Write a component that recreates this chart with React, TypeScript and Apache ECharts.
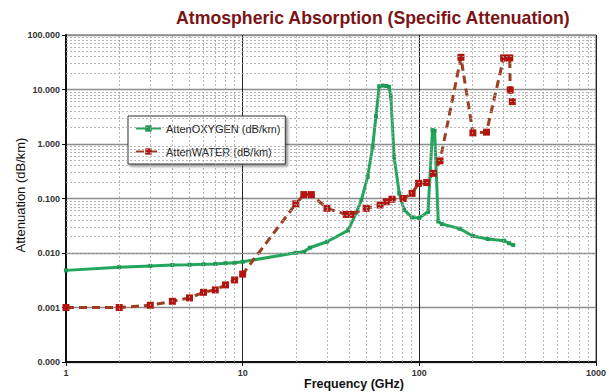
import React, { useEffect, useRef } from "react";
import * as echarts from "echarts";

// Oxygen absorption (dB/km) vs frequency (GHz)
const OXY_FREQ = [1, 2, 3, 4, 5, 6, 7, 8, 9, 10, 20, 22.2, 24, 30, 39.5, 44, 47, 51, 54.4, 56.8, 59.3, 62, 65, 67.4, 69, 72, 77, 82, 91, 100, 112, 118.75, 122, 128, 134, 169, 201, 244, 302, 322, 340];
const OXY_ATT = [0.0048, 0.0055, 0.0058, 0.006, 0.0061, 0.0062, 0.0063, 0.0065, 0.0066, 0.0069, 0.0101, 0.0105, 0.0125, 0.0161, 0.026, 0.055, 0.094, 0.25, 0.89, 3.2, 11.5, 11.8, 11.6, 11.2, 7.4, 0.58, 0.124, 0.062, 0.045, 0.044, 0.057, 1.8, 1.75, 0.038, 0.034, 0.028, 0.0205, 0.018, 0.0168, 0.0151, 0.014];

// Water vapour absorption (dB/km) vs frequency (GHz)
const H2O_FREQ = [1, 2, 3, 4, 5, 6, 7, 8, 9, 10, 20, 22.2, 24.5, 30, 38.6, 41, 50, 60, 65, 70, 81, 91, 99, 110, 120, 131, 172, 201, 240, 300, 325, 327, 336];
const H2O_ATT = [0.001, 0.001, 0.0011, 0.0013, 0.0015, 0.0019, 0.0021, 0.0026, 0.0032, 0.0041, 0.08, 0.118, 0.118, 0.066, 0.051, 0.051, 0.066, 0.076, 0.087, 0.097, 0.1, 0.124, 0.19, 0.196, 0.29, 0.49, 39, 1.6, 1.65, 38, 38, 9.8, 6.0];

// Minor grid positions inside each decade
const MINOR_STEPS = [2, 3, 4, 5, 6, 7, 8, 9];
const X_DECADES = [1, 10, 100];
const Y_DECADES = [0.0001, 0.001, 0.01, 0.1, 1, 10];

const SERIES_NAMES = ["AttenOXYGEN (dB/km)", "AttenWATER (dB/km)"];
const TITLE = "Atmospheric Absorption (Specific Attenuation)";
const X_NAME = "Frequency (GHz)";
const Y_NAME = "Attenuation (dB/km)";

const FONT = "'Liberation Sans', Arial, sans-serif";

const zip = (xs: number[], ys: number[]) => xs.map((x, i) => [x, ys[i]]);

export default function App() {
  const ref = useRef<HTMLDivElement>(null);

  useEffect(() => {
    document.body.style.margin = "0";
    if (!ref.current) return;
    const chart = echarts.init(ref.current, undefined, { renderer: "svg" });

    const minorX: number[] = [];
    X_DECADES.forEach((d) => MINOR_STEPS.forEach((s) => minorX.push(d * s)));
    const minorY: number[] = [];
    Y_DECADES.forEach((d) => MINOR_STEPS.forEach((s) => minorY.push(d * s)));

    const minorLineStyle = { type: [2, 2], color: "#a2a2a2", width: 0.8 };

    chart.setOption({
      animation: false,
      backgroundColor: "#ffffff",
      title: {
        text: TITLE,
        left: 171,
        top: 4,
        textStyle: {
          fontFamily: FONT,
          fontSize: 17.7,
          fontWeight: "bold",
          color: "#7b1416",
        },
      },
      grid: {
        left: 66,
        right: 6,
        top: 35,
        bottom: 30,
        show: true,
        borderColor: "#555",
        borderWidth: 1,
      },
      legend: {
        orient: "vertical",
        left: 128,
        top: 116,
        padding: [7, 5, 7, 7],
        itemGap: 12,
        itemWidth: 25,
        itemHeight: 8,
        itemStyle: { borderWidth: 0 },
        backgroundColor: "#ffffff",
        borderColor: "#333",
        borderWidth: 1,
        borderRadius: 0,
        shadowBlur: 3,
        shadowOffsetX: 2,
        shadowOffsetY: 2,
        shadowColor: "rgba(0,0,0,0.45)",
        textStyle: { fontFamily: FONT, fontSize: 11, color: "#222" },
        data: SERIES_NAMES,
      },
      xAxis: {
        type: "log",
        logBase: 10,
        min: 1,
        max: 1000,
        axisLine: { show: true, lineStyle: { color: "#111", width: 2 } },
        axisTick: { show: true, length: 4, lineStyle: { color: "#111" } },
        axisLabel: {
          fontFamily: FONT,
          fontSize: 9,
          fontWeight: "bold",
          color: "#333",
          margin: 6,
          formatter: (v: number) => String(Math.round(v)),
        },
        splitLine: { show: true, lineStyle: { color: "#222", width: 1 } },
      },
      yAxis: {
        type: "log",
        logBase: 10,
        min: 0.0001,
        max: 100,
        axisLine: { show: true, lineStyle: { color: "#111", width: 2 } },
        axisTick: { show: true, length: 4, lineStyle: { color: "#111" } },
        axisLabel: {
          fontFamily: FONT,
          fontSize: 9,
          fontWeight: "bold",
          color: "#333",
          margin: 6,
          formatter: (v: number) => v.toFixed(3),
        },
        splitLine: { show: true, lineStyle: { color: "#8c8c8c", width: 1.3 } },
      },
      graphic: [
        {
          type: "text",
          x: 20,
          y: 195,
          rotation: Math.PI / 2,
          style: {
            text: Y_NAME,
            align: "center",
            verticalAlign: "middle",
            fontFamily: FONT,
            fontSize: 13,
            fill: "#111",
          },
        },
        {
          type: "text",
          x: 354,
          y: 384,
          style: {
            text: X_NAME,
            align: "center",
            verticalAlign: "middle",
            fontFamily: FONT,
            fontSize: 12.5,
            fontWeight: "bold",
            fill: "#111",
          },
        },
      ],
      series: [
        {
          name: "minor-grid",
          type: "line",
          data: [],
          z: 1,
          silent: true,
          markLine: {
            silent: true,
            symbol: ["none", "none"],
            label: { show: false },
            emphasis: { disabled: true },
            lineStyle: minorLineStyle,
            data: [
              ...minorX.map((v) => ({ xAxis: v })),
              ...minorY.map((v) => ({ yAxis: v })),
            ],
          },
        },
        {
          name: SERIES_NAMES[0],
          type: "line",
          z: 3,
          data: zip(OXY_FREQ, OXY_ATT),
          color: "#21a65c",
          symbol: "rect",
          symbolSize: 4,
          lineStyle: { color: "#21a65c", width: 3 },
          itemStyle: { color: "#1f9a55", borderWidth: 0 },
        },
        {
          name: SERIES_NAMES[1],
          type: "line",
          z: 4,
          data: zip(H2O_FREQ, H2O_ATT),
          color: "#a03a1e",
          symbol: "rect",
          symbolSize: 7,
          lineStyle: { color: "#9e3d20", width: 3, type: [8, 5] },
          itemStyle: { color: "#b3140f", borderWidth: 0 },
        },
      ],
    });

    return () => chart.dispose();
  }, []);

  return <div ref={ref} style={{ width: 609, height: 392 }} />;
}
